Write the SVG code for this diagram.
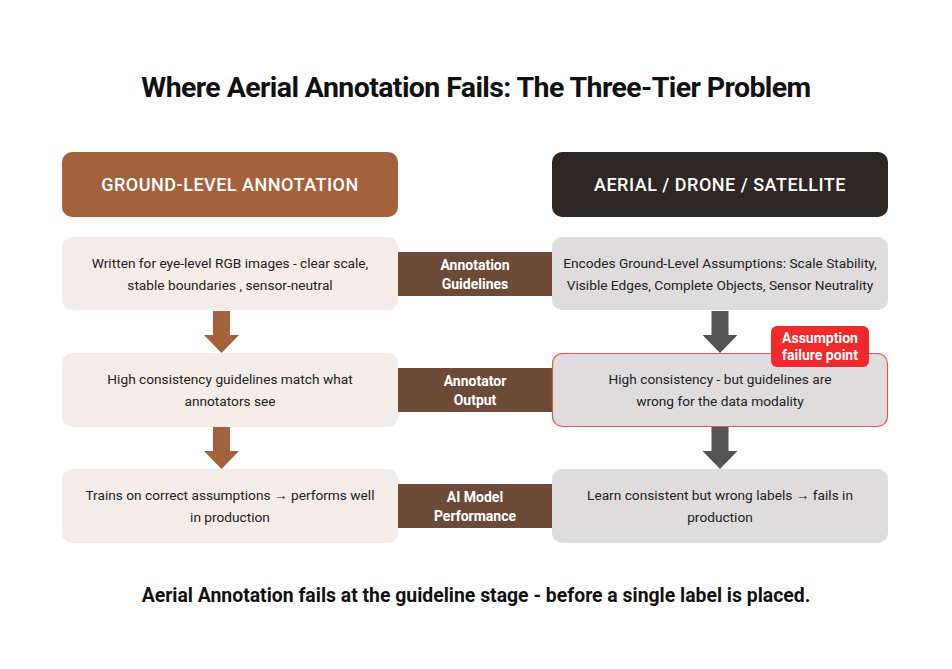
<svg xmlns="http://www.w3.org/2000/svg" width="952" height="669" viewBox="0 0 952 669">
<style>
text{font-family:Roboto,"Liberation Sans",Arial,sans-serif;text-anchor:middle}
.title{font-size:28.5px;font-weight:700;fill:#111;letter-spacing:-0.6px}
.hdr{font-size:18px;font-weight:500;fill:#fff;letter-spacing:0.5px}
.lbox{fill:#F3ECE7}
.rbox{fill:#DEDCDC}
.bt{font-size:13.7px;fill:#222}
.mid{fill:#6B4B38}
.mt{font-size:14px;font-weight:700;fill:#fff}
.foot{font-size:19.4px;font-weight:700;fill:#111}
.la{fill:#A3623C}
.ra{fill:#555555}
</style>
<rect width="952" height="669" fill="#fff"/>
<text class="title" x="476" y="97">Where Aerial Annotation Fails: The Three-Tier Problem</text>

<g id="hdr-left"><rect x="62" y="152" width="336" height="65" rx="10" fill="#A3623C"/><text class="hdr" x="230" y="191">GROUND-LEVEL ANNOTATION</text></g>
<g id="hdr-right"><rect x="552" y="152" width="336" height="65" rx="10" fill="#2E2723"/><text class="hdr" x="720" y="191">AERIAL / DRONE / SATELLITE</text></g>

<g id="mid1"><rect class="mid" x="398" y="252" width="154" height="44"/><text class="mt" x="475" y="270">Annotation</text><text class="mt" x="475" y="289">Guidelines</text></g>
<g id="mid2"><rect class="mid" x="398" y="368" width="154" height="44"/><text class="mt" x="475" y="386">Annotator</text><text class="mt" x="475" y="405">Output</text></g>
<g id="mid3"><rect class="mid" x="398" y="484" width="154" height="44"/><text class="mt" x="475" y="502">AI Model</text><text class="mt" x="475" y="521">Performance</text></g>

<g id="l1"><rect class="lbox" x="62" y="237" width="336" height="73" rx="10"/><text class="bt" x="230" y="268">Written for eye-level RGB images - clear scale,</text><text class="bt" x="230" y="290">stable boundaries , sensor-neutral</text></g>
<g id="l2"><rect class="lbox" x="62" y="353" width="336" height="74" rx="10"/><text class="bt" x="230" y="384">High consistency guidelines match what</text><text class="bt" x="230" y="406">annotators see</text></g>
<g id="l3"><rect class="lbox" x="62" y="469" width="336" height="74" rx="10"/><text class="bt" x="230" y="500">Trains on correct assumptions → performs well</text><text class="bt" x="230" y="522">in production</text></g>

<g id="r1"><rect class="rbox" x="552" y="237" width="336" height="73" rx="10"/><text class="bt" x="720" y="268">Encodes Ground-Level Assumptions: Scale Stability,</text><text class="bt" x="720" y="290">Visible Edges, Complete Objects, Sensor Neutrality</text></g>
<g id="r2"><rect class="rbox" x="552.5" y="353.5" width="335" height="73" rx="10" stroke="#E05858" stroke-width="1.2"/><text class="bt" x="720" y="384">High consistency - but guidelines are</text><text class="bt" x="720" y="406">wrong for the data modality</text></g>
<g id="r3"><rect class="rbox" x="552" y="469" width="336" height="74" rx="10"/><text class="bt" x="720" y="500">Learn consistent but wrong labels → fails in</text><text class="bt" x="720" y="522">production</text></g>

<g id="connectors">
<polygon class="la" points="213,311 230,311 230,335 239,335 221.5,353 204,335 213,335"/>
<polygon class="la" points="213,427 230,427 230,451 239,451 221.5,469 204,451 213,451"/>
<polygon class="ra" points="711.5,311 728.5,311 728.5,335 737.5,335 720,353 702.5,335 711.5,335"/>
<polygon class="ra" points="711.5,427 728.5,427 728.5,451 737.5,451 720,469 702.5,451 711.5,451"/>
</g>

<g id="badge"><rect x="771" y="326" width="98" height="41" rx="6" fill="#EE2A2A"/><text class="mt" x="820" y="343">Assumption</text><text class="mt" x="820" y="360">failure point</text></g>

<text class="foot" x="476" y="602">Aerial Annotation fails at the guideline stage - before a single label is placed.</text>
</svg>
